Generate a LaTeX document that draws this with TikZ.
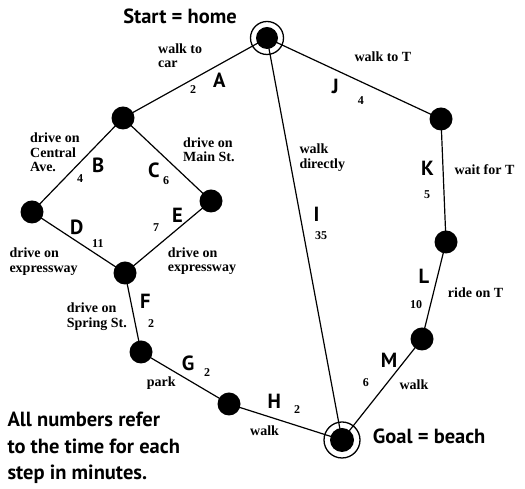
\documentclass[tikz,border=0pt]{standalone}
\usepackage{fontspec}
\setmainfont{Liberation Serif}
\newfontfamily\lblfont{PT Sans}
\begin{document}
\begin{tikzpicture}[x=1pt,y=1pt]
\useasboundingbox (0,0) rectangle (525,489);
\tikzset{
 dot/.style={circle,fill=black,inner sep=0,minimum size=23pt},
 ring/.style={circle,draw=black,line width=1.3pt,inner sep=0},
 edge/.style={draw=black,line width=1.2pt},
 big/.style={font=\lblfont\bfseries\fontsize{20.5}{26.5}\selectfont,inner sep=0,align=left},
 desc/.style={font=\bfseries\fontsize{14}{14.5}\selectfont,inner sep=0,align=left,anchor=base west},
 num/.style={font=\bfseries\fontsize{12}{12}\selectfont,inner sep=0,anchor=base west},
 letter/.style={big,anchor=base west},
}
% vertices
\node[ring,minimum size=33pt] (Sr) at (267,451) {};
\node[dot,minimum size=22pt] (S) at (267,451) {};
\node[dot] (n1) at (123,371) {};
\node[dot] (n2) at (32,277) {};
\node[dot] (n3) at (211,288) {};
\node[dot] (n4) at (125,216) {};
\node[dot] (n5) at (141,137) {};
\node[dot] (n6) at (229,85) {};
\node[ring,minimum size=36pt] (Gr) at (342,49) {};
\node[dot,minimum size=24pt] (G) at (342,49) {};
\node[dot] (nJ) at (441,370) {};
\node[dot] (nK) at (446,247) {};
\node[dot] (nM) at (422,150) {};
% edges
\draw[edge] (S.center) -- (n1.center);
\draw[edge] (n1.center) -- (n2.center);
\draw[edge] (n1.center) -- (n3.center);
\draw[edge] (n2.center) -- (n4.center);
\draw[edge] (n3.center) -- (n4.center);
\draw[edge] (n4.center) -- (n5.center);
\draw[edge] (n5.center) -- (n6.center);
\draw[edge] (n6.center) -- (G.center);
\draw[edge] (S.center) -- (G.center);
\draw[edge] (S.center) -- (nJ.center);
\draw[edge] (nJ.center) -- (nK.center);
\draw[edge] (nK.center) -- (nM.center);
\draw[edge] (nM.center) -- (G.center);
% titles
\node[big,anchor=base] (tstart) at (180,465) {Start = home};
\node[big,anchor=base west] (tgoal) at (372.7,45) {Goal = beach};
\node[big,anchor=base west] (tnote) at (7.3,9) {All numbers refer\\to the time for each\\step in minutes.};
% letters
\node[letter] (lA) at (213,401.7) {A};
\node[letter] (lB) at (92,316.3) {B};
\node[letter] (lC) at (148,311.7) {C};
\node[letter] (lD) at (70,254.7) {D};
\node[letter] (lE) at (172,266.3) {E};
\node[letter] (lF) at (140,180) {F};
\node[letter] (lG) at (181.7,118) {G};
\node[letter] (lH) at (267.3,80.7) {H};
\node[letter] (lI) at (313.3,267.3) {I};
\node[letter] (lJ) at (331.7,395) {J};
\node[letter] (lK) at (421,313.3) {K};
\node[letter] (lL) at (418.3,205.7) {L};
\node[letter] (lM) at (380.7,121.3) {M};
% numbers
\node[num] (vA) at (190,395) {2};
\node[num] (vB) at (77,306.3) {4};
\node[num] (vC) at (163,304.7) {6};
\node[num] (vD) at (92,241.7) {11};
\node[num] (vE) at (153,257.3) {7};
\node[num] (vF) at (148,161.7) {2};
\node[num] (vG) at (204,112.3) {2};
\node[num] (vH) at (294,75) {2};
\node[num] (vI) at (315,249) {35};
\node[num] (vJ) at (357.7,384.7) {4};
\node[num] (vK) at (424,290) {5};
\node[num] (vL) at (410,180) {10};
\node[num] (vM) at (362.7,102.3) {6};
% descriptions (anchor = baseline of last line)
\node[desc] (dA) at (158,421) {walk to\\car};
\node[desc] (dB) at (30,317.3) {drive on\\Central\\Ave.};
\node[desc] (dC) at (183,327.3) {drive on\\Main St.};
\node[desc] (dD) at (9.3,216.7) {drive on\\expressway};
\node[desc] (dE) at (167.7,217.3) {drive on\\expressway};
\node[desc] (dF) at (66.7,161.7) {drive on\\Spring St.};
\node[desc] (dG) at (146.7,102.3) {park};
\node[desc] (dH) at (250,53.3) {walk};
\node[desc] (dI) at (299.3,320.7) {walk\\directly};
\node[desc] (dJ) at (354.3,427.3) {walk to T};
\node[desc] (dK) at (454.3,314) {wait for T};
\node[desc] (dL) at (447.7,191.7) {ride on T};
\node[desc] (dM) at (399.3,99) {walk};
\end{tikzpicture}
\end{document}
